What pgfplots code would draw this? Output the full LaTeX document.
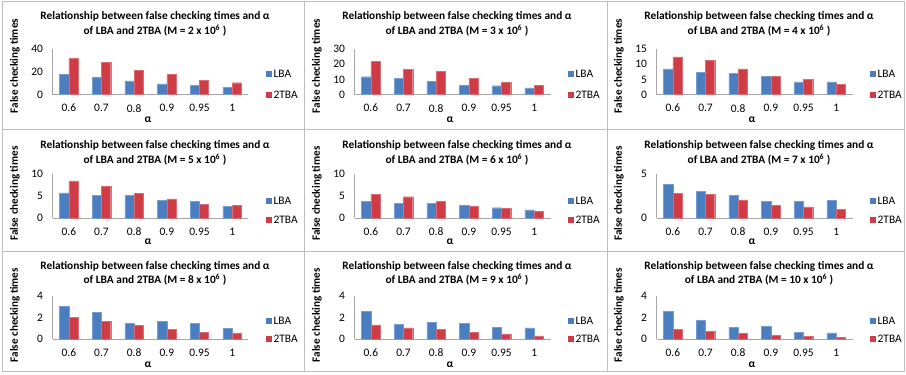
\documentclass[border=0pt]{standalone}
\usepackage{pgfplots}
\pgfplotsset{compat=1.18}
\usepackage{fontspec}
\setmainfont{Carlito}
\definecolor{lbablue}{HTML}{4A7EC0}
\definecolor{tbared}{HTML}{D03C46}
\definecolor{framegray}{HTML}{BFBFBF}
\definecolor{axisgray}{HTML}{A6A6A6}
\pgfplotsset{
  pan/.style={
    scale only axis, width=196bp,
    xmin=-0.5, xmax=5.5, ymin=0,
    xtick={0,1,2,3,4,5}, xticklabels={0.6,0.7,0.8,0.9,0.95,1},
    ybar=0pt, bar width=9.2bp,
    axis x line*=bottom, axis y line*=left,
    axis line style={draw=axisgray, line width=0.6bp},
    major tick length=0pt,
    /pgf/number format/assume math mode=true,
    tick label style={font=\fontsize{11.5}{13}\selectfont, text=black},
    xticklabel style={yshift=-6bp},
    yticklabel style={xshift=-6bp},
    legend style={draw=none, fill=none, inner sep=0pt, at={(1,0)}, anchor=west, xshift=17.5bp,
      column sep=2bp,
      nodes={inner sep=0pt, text height=7.5bp, text depth=0pt, font=\fontsize{11.5}{13}\selectfont}},
    legend cell align=left,
  },
  r1/.style={height=45.7bp, legend style={yshift=10.9bp, row sep=13.5bp}},
  r2/.style={height=44bp, legend style={yshift=8.5bp, row sep=11.5bp}},
  r3/.style={height=43.6bp, legend style={yshift=9.8bp, row sep=10.1bp}},
  lba/.style={fill=lbablue, draw=lbablue!75!white, line width=0.4bp,
     legend image code/.code={\fill[lbablue] (0bp,-2.5bp) rectangle (5bp,2.5bp);}},
  tba/.style={fill=tbared, draw=tbared!75!white, line width=0.4bp,
     legend image code/.code={\fill[tbared] (0bp,-2.5bp) rectangle (5bp,2.5bp);}},
}
\newcommand{\ptext}[6]{% #1 cx, #2 title1 Y, #3 title2 Y, #4 ylabel Y, #5 alpha Y, #6 M
  \node[anchor=base, font=\bfseries\fontsize{11.4}{13}\selectfont, inner sep=0pt] at (#1+155,#2-3.9) {Relationship between false checking times and α};
  \node[anchor=base, font=\bfseries\fontsize{11.4}{13}\selectfont, inner sep=0pt] at (#1+155,#3-3.9) {of LBA and 2TBA (M = #6 x 10\textsuperscript{6} )};
  \node[rotate=90, font=\bfseries\fontsize{11.2}{13}\selectfont, inner sep=0pt] at (#1+15,#4) {False checking times};
  \node[anchor=base, font=\bfseries\fontsize{11.5}{13}\selectfont, inner sep=0pt] at (#1+148,#5-2.7) {α};
}
\begin{document}
\begin{tikzpicture}[x=1bp,y=1bp]
\useasboundingbox (0,0) rectangle (906,374);
% frames
\draw[framegray, line width=0.8bp] (2,3) rectangle (904,372.5);
\draw[framegray, line width=0.8bp] (304,3) -- (304,372.5);
\draw[framegray, line width=0.8bp] (607,3) -- (607,372.5);
\draw[framegray, line width=0.8bp] (2,245) -- (904,245);
\draw[framegray, line width=0.8bp] (2,123) -- (904,123);

% ---------- Row 1 ----------
\begin{axis}[pan, r1, at={(52.5bp,279.3bp)}, anchor=south west, ymax=40, ytick={0,20,40}]
\addplot[lba] coordinates {(0,17.8) (1,15.2) (2,12.0) (3,9.4) (4,7.9) (5,6.7)};
\addplot[tba] coordinates {(0,31.6) (1,28.4) (2,21.6) (3,17.8) (4,12.6) (5,10.5)};
\legend{LBA,2TBA}
\end{axis}
\ptext{0}{358}{343}{308}{254}{2}

\begin{axis}[pan, r1, at={(354.5bp,279.3bp)}, anchor=south west, ymax=30, ytick={0,10,20,30}]
\addplot[lba] coordinates {(0,11.8) (1,10.7) (2,8.8) (3,6.3) (4,5.9) (5,4.4)};
\addplot[tba] coordinates {(0,21.9) (1,16.6) (2,15.3) (3,10.9) (4,8.1) (5,6.3)};
\legend{LBA,2TBA}
\end{axis}
\ptext{302}{358}{343}{308}{254}{3}

\begin{axis}[pan, r1, at={(656.5bp,279.3bp)}, anchor=south west, ymax=15, ytick={0,5,10,15}]
\addplot[lba] coordinates {(0,8.5) (1,7.3) (2,6.9) (3,6.0) (4,4.2) (5,4.2)};
\addplot[tba] coordinates {(0,12.4) (1,11.2) (2,8.5) (3,6.0) (4,5.0) (5,3.4)};
\legend{LBA,2TBA}
\end{axis}
\ptext{604}{358}{343}{308}{254}{4}

% ---------- Row 2 ----------
\begin{axis}[pan, r2, at={(52.5bp,155.7bp)}, anchor=south west, ymax=10, ytick={0,5,10}]
\addplot[lba] coordinates {(0,5.76) (1,5.2) (2,5.2) (3,4.1) (4,3.9) (5,2.7)};
\addplot[tba] coordinates {(0,8.5) (1,7.3) (2,5.6) (3,4.4) (4,3.2) (5,2.9)};
\legend{LBA,2TBA}
\end{axis}
\ptext{0}{229}{214}{180.5}{132.3}{5}

\begin{axis}[pan, r2, at={(354.5bp,155.7bp)}, anchor=south west, ymax=10, ytick={0,5,10}]
\addplot[lba] coordinates {(0,3.8) (1,3.4) (2,3.4) (3,3.0) (4,2.4) (5,1.9)};
\addplot[tba] coordinates {(0,5.5) (1,4.9) (2,3.8) (3,2.8) (4,2.3) (5,1.6)};
\legend{LBA,2TBA}
\end{axis}
\ptext{302}{229}{214}{180.5}{132.3}{6}

\begin{axis}[pan, r2, at={(656.5bp,155.7bp)}, anchor=south west, ymax=5, ytick={0,5}]
\addplot[lba] coordinates {(0,3.83) (1,3.1) (2,2.6) (3,1.9) (4,1.9) (5,2.0)};
\addplot[tba] coordinates {(0,2.84) (1,2.7) (2,2.08) (3,1.5) (4,1.3) (5,1.0)};
\legend{LBA,2TBA}
\end{axis}
\ptext{604}{229}{214}{180.5}{132.3}{7}

% ---------- Row 3 ----------
\begin{axis}[pan, r3, at={(52.5bp,34.7bp)}, anchor=south west, ymax=4, ytick={0,2,4}]
\addplot[lba] coordinates {(0,3.0) (1,2.45) (2,1.47) (3,1.62) (4,1.47) (5,0.98)};
\addplot[tba] coordinates {(0,2.0) (1,1.62) (2,1.28) (3,0.92) (4,0.67) (5,0.58)};
\legend{LBA,2TBA}
\end{axis}
\ptext{0}{108.3}{94}{59}{9}{8}

\begin{axis}[pan, r3, at={(354.5bp,34.7bp)}, anchor=south west, ymax=4, ytick={0,2,4}]
\addplot[lba] coordinates {(0,2.55) (1,1.38) (2,1.54) (3,1.48) (4,1.1) (5,1.05)};
\addplot[tba] coordinates {(0,1.32) (1,1.05) (2,0.89) (3,0.65) (4,0.49) (5,0.31)};
\legend{LBA,2TBA}
\end{axis}
\ptext{302}{108.3}{94}{59}{9}{9}

\begin{axis}[pan, r3, at={(656.5bp,34.7bp)}, anchor=south west, ymax=4, ytick={0,2,4}]
\addplot[lba] coordinates {(0,2.58) (1,1.74) (2,1.1) (3,1.16) (4,0.67) (5,0.58)};
\addplot[tba] coordinates {(0,0.89) (1,0.73) (2,0.52) (3,0.37) (4,0.28) (5,0.18)};
\legend{LBA,2TBA}
\end{axis}
\ptext{604}{108.3}{94}{59}{9}{10}
\end{tikzpicture}
\end{document}
